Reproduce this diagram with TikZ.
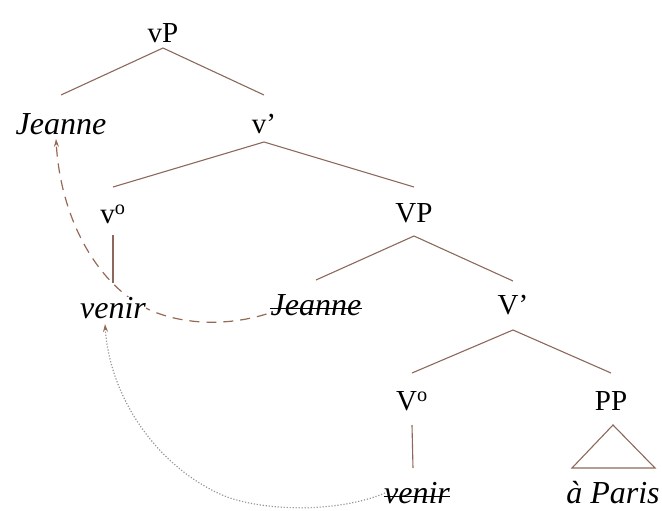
\documentclass[tikz,border=0pt]{standalone}
\usepackage{fontspec}
\setmainfont{Liberation Serif}
\usetikzlibrary{calc,arrows.meta}
\definecolor{branchc}{RGB}{140,104,92}
\definecolor{dashc}{RGB}{150,105,85}
\definecolor{dotc}{RGB}{150,150,150}
\pgfdeclarelayer{background}
\pgfsetlayers{background,main}
\begin{document}
\begin{tikzpicture}[x=1pt,y=-1pt,
  lbl/.style={font=\fontsize{29}{34}\selectfont, inner sep=0pt},
  ilbl/.style={font=\fontsize{32}{36}\selectfont\itshape, inner sep=0pt},
  branch/.style={draw=branchc, line width=1.1pt},
  strike/.style={draw=black, line width=1pt},
  movedash/.style={draw=dashc, line width=1.2pt, dash pattern=on 10pt off 7pt, -{Stealth[length=8pt,width=5pt]}},
  movedot/.style={draw=dotc, line width=1.2pt, dash pattern=on 1.2pt off 1.8pt, -{Stealth[length=8pt,width=5pt,color=dashc]}}]
\useasboundingbox (0,0) rectangle (662,511);
\node[lbl] (vP) at (163,33) {vP};
\node[ilbl] (J1) at (61,124) {Jeanne};
\node[lbl] (vbar) at (264,124) {v’};
\node[lbl] (v0) at (113,214) {v\textsuperscript{o}};
\node[lbl] (VP) at (414,213) {VP};
\node[ilbl, fill=white] (ven1) at (113,308) {venir};
\node[ilbl] (J2) at (316,305) {Jeanne};
\node[lbl] (Vbar) at (513,305) {V’};
\node[lbl] (V0) at (412,401) {V\textsuperscript{o}};
\node[lbl] (PP) at (611,401) {PP};
\node[ilbl] (ven2) at (417,493) {venir};
\node[ilbl] (AP) at (613,493) {à Paris};
% strike-throughs
\draw[strike] ($(J2.base west)+(0,-7)$) -- ($(J2.base east)+(0,-7)$);
\draw[strike] ($(ven2.base west)+(0,-7)$) -- ($(ven2.base east)+(0,-7)$);
% branches
\draw[branch] ($(vP)+(0,15)$) -- ($(J1)+(0,-29)$);
\draw[branch] ($(vP)+(0,15)$) -- ($(vbar)+(0,-29)$);
\draw[branch] ($(vbar)+(0,18)$) -- ($(v0)+(0,-27)$);
\draw[branch] ($(vbar)+(0,18)$) -- ($(VP)+(0,-26)$);
\draw[branch] ($(v0)+(0,21)$) -- ($(ven1)+(0,-25)$);
\draw[branch] ($(VP)+(0,23)$) -- ($(J2)+(0,-25)$);
\draw[branch] ($(VP)+(0,23)$) -- ($(Vbar)+(0,-24)$);
\draw[branch] ($(Vbar)+(0,25)$) -- ($(V0)+(0,-28)$);
\draw[branch] ($(Vbar)+(0,25)$) -- ($(PP)+(0,-28)$);
\draw[branch] ($(V0)+(0,24)$) -- ($(ven2)+(-4,-25)$);
\draw[branch] ($(PP)+(2,24)$) coordinate (tA) -- ($(AP)+(42,-25)$) -- ($(AP)+(-41,-25)$) -- cycle;
% movement arrows
\begin{pgfonlayer}{background}
\draw[movedash] ($(J2.west)+(-4,9)$) .. controls (225,327) and (175,325) .. (140,305)
  .. controls (90,275) and (60,210) .. ($(J1.south)+(-5,4)$);
\draw[movedot] ($(ven2.west)+(1,0)$) .. controls (340,512) and (270,512) .. (227,497)
  .. controls (160,470) and (110,400) .. ($(ven1.south)+(-8,5)$);
\end{pgfonlayer}
\end{tikzpicture}
\end{document}
